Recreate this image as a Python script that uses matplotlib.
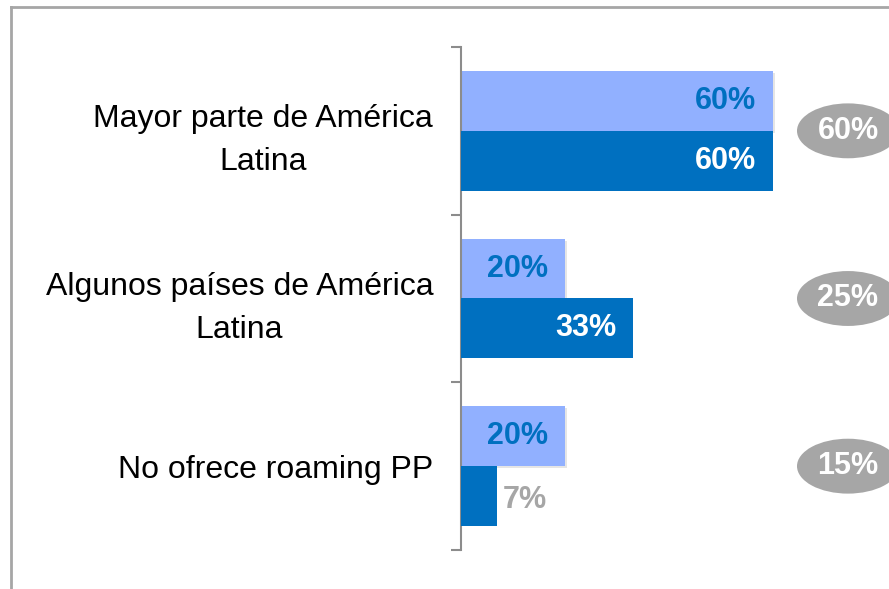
import matplotlib
matplotlib.use("Agg")
import matplotlib.pyplot as plt
from matplotlib.patches import Ellipse
from matplotlib.lines import Line2D
import matplotlib.patheffects as pe

categories = ["Mayor parte de América\nLatina",
              "Algunos países de América\nLatina",
              "No ofrece roaming PP"]
serie_clara = [60, 20, 20]
serie_oscura = [60, 33, 7]
totales = ["60%", "25%", "15%"]

plt.rcParams['font.family'] = ['Liberation Sans', 'DejaVu Sans']

W, H = 889, 589
fig = plt.figure(figsize=(W / 100, H / 100), dpi=100)
fig.patch.set_facecolor('white')

# outer frame (cropped at right and bottom)
frame_color = '#A6A6A6'
fig.add_artist(Line2D([11 / W, 11 / W], [1 - 7 / H, 0], transform=fig.transFigure,
                      color=frame_color, lw=2))
fig.add_artist(Line2D([11 / W, 1], [1 - 7 / H, 1 - 7 / H], transform=fig.transFigure,
                      color=frame_color, lw=2))

left, right = 461 / W, 1.0
top, bottom = 1 - 47 / H, 1 - 550 / H
ax = fig.add_axes([left, bottom, right - left, top - bottom])
ax.set_facecolor('none')

px_per_unit = 5.2
ax.set_xlim(0, (W - 461) / px_per_unit)
ax.set_ylim(len(categories) - 0.5, -0.5)

light = '#91B0FF'
dark = '#0070C0'
gray = '#A6A6A6'
h = 0.357
off = 0.178

ypos = list(range(len(categories)))
bars_l = ax.barh([y - off for y in ypos], serie_clara, height=h, color=light, zorder=2,
                 path_effects=[pe.SimplePatchShadow(offset=(1.5, -1.5), shadow_rgbFace='#9A9A9A', alpha=0.25),
                               pe.Normal()])
bars_d = ax.barh([y + off for y in ypos], serie_oscura, height=h, color=dark, zorder=3)

for y, v in zip(ypos, serie_clara):
    ax.annotate(f"{v}%", xy=(v, y - off), xytext=(-12, 0), textcoords='offset points',
                ha='right', va='center', fontsize=22, fontweight='bold', color=dark, zorder=4)
for y, v in zip(ypos, serie_oscura):
    if v >= 10:
        ax.annotate(f"{v}%", xy=(v, y + off), xytext=(-12, 0), textcoords='offset points',
                    ha='right', va='center', fontsize=22, fontweight='bold', color='white', zorder=4)
    else:
        ax.annotate(f"{v}%", xy=(v, y + off), xytext=(4, -3), textcoords='offset points',
                    ha='left', va='center', fontsize=22, fontweight='bold', color=gray, zorder=4)

# total ellipses
ex = (848 - 461) / px_per_unit
ew = 102 / px_per_unit
eh = 55 / 168
for y, t in zip(ypos, totales):
    e = Ellipse((ex, y), ew, eh, facecolor=gray, edgecolor='none', clip_on=False, zorder=2)
    ax.add_patch(e)
    ax.text(ex, y, t, ha='center', va='center', fontsize=22, fontweight='bold',
            color='white', zorder=3, clip_on=False)

# axes styling
for s in ['top', 'right', 'bottom']:
    ax.spines[s].set_visible(False)
ax.spines['left'].set_color('#8C8C8C')
ax.spines['left'].set_linewidth(1.5)
ax.set_xticks([])
ax.set_yticks(ypos)
ax.set_yticklabels(categories, fontsize=23, color='black', multialignment='center',
                   linespacing=1.55)
ax.tick_params(axis='y', which='major', length=0, pad=20)
ax.set_yticks([y - 0.5 for y in ypos] + [ypos[-1] + 0.5], minor=True)
ax.tick_params(axis='y', which='minor', length=7.2, width=1.5, color='#8C8C8C', direction='out')

fig.savefig('out.png', dpi=100, facecolor='white')
